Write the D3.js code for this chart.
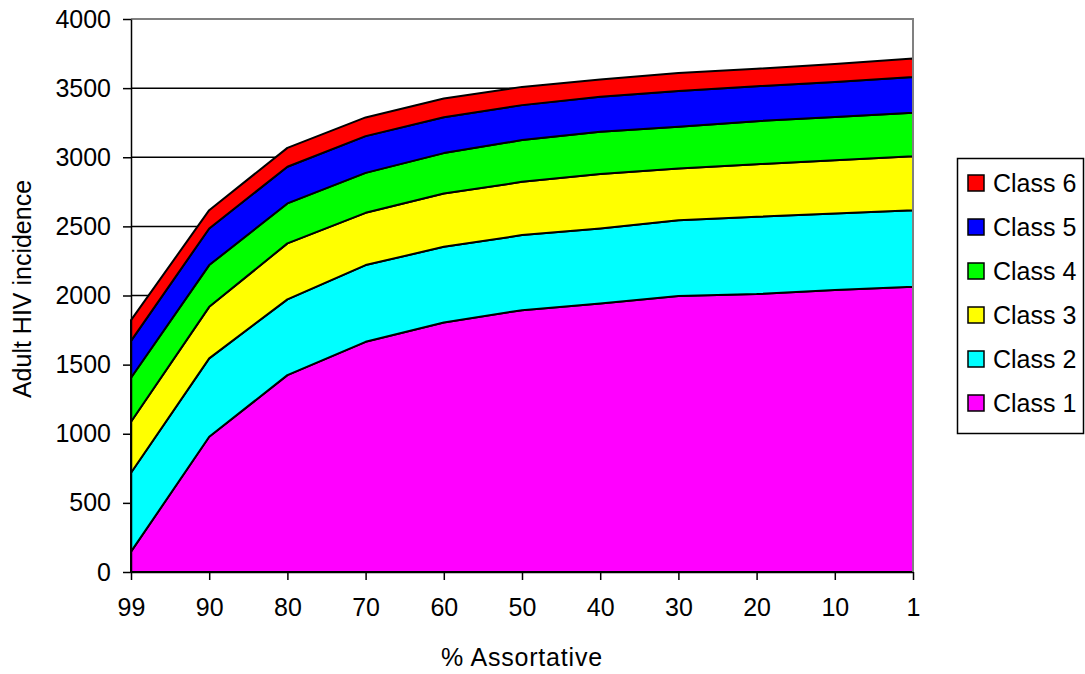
<!DOCTYPE html>
<html>
<head>
<meta charset="utf-8">
<script src="https://cdn.jsdelivr.net/npm/d3@7"></script>
<style>
  body { margin: 0; background: #fff; }
  svg { display: block; font-family: "Liberation Sans", Arial, sans-serif; }
  .axis path, .axis line { stroke: #000; stroke-width: 1.5px; }
  .axis text { font-size: 25px; fill: #000; }
</style>
</head>
<body>
<div class="chartWrap"></div>
<script>
// data, values per class (not cumulative)
const categories = ['99', '90', '80', '70', '60', '50', '40', '30', '20', '10', '1'];
const class1 = [147, 978, 1424, 1665, 1805, 1894, 1943, 1996, 2010, 2039, 2063];
const class2 = [571, 567, 548, 555, 547, 543, 542, 549, 559, 554, 554];
const class3 = [369, 373, 405, 378, 386, 385, 393, 374, 381, 386, 391];
const class4 = [318, 302, 289, 289, 292, 302, 306, 301, 311, 313, 313];
const class5 = [267, 265, 265, 266, 260, 253, 253, 260, 253, 253, 259];
const class6 = [150, 132, 137, 135, 135, 132, 125, 130, 126, 130, 135];
const seriesNames = ['Class 1', 'Class 2', 'Class 3', 'Class 4', 'Class 5', 'Class 6'];
const yTicks = [0, 500, 1000, 1500, 2000, 2500, 3000, 3500, 4000];

const colors = ['#ff00ff', '#00ffff', '#ffff00', '#00ff00', '#0000ff', '#ff0000'];
const w = 1085, h = 674;
const margin = {top: 19, right: 172, bottom: 102, left: 131};

// build table for d3.stack
const allSeries = [class1, class2, class3, class4, class5, class6];
const table = categories.map(function(c, i) {
  let row = {cat: c};
  seriesNames.forEach(function(s, j) { row[s] = allSeries[j][i]; });
  return row;
});
const stacked = d3.stack().keys(seriesNames)(table);

const svg = d3.select(".chartWrap").append("svg").attr("width", w).attr("height", h);

const x = d3.scalePoint().domain(categories).range([margin.left, w - margin.right]);
const y = d3.scaleLinear().domain([0, 4000]).range([h - margin.bottom, margin.top]);

// gridlines
svg.append("g").selectAll("line").data(yTicks.filter(d => d > 0)).enter().append("line")
  .attr("x1", margin.left).attr("x2", w - margin.right)
  .attr("y1", d => y(d)).attr("y2", d => y(d))
  .attr("stroke", "#000").attr("stroke-width", 1.5);

// areas
const area = d3.area()
  .x((d, i) => x(categories[i]))
  .y0(d => y(d[0]))
  .y1(d => y(d[1]));
svg.append("g").selectAll("path").data(stacked).enter().append("path")
  .attr("d", area)
  .attr("fill", (d, i) => colors[i])
  .attr("stroke", "#000").attr("stroke-width", 2).attr("stroke-linejoin", "round");

// plot border (top + right grey)
svg.append("path")
  .attr("d", "M" + margin.left + "," + y(4000) + "H" + (w - margin.right) + "V" + y(0))
  .attr("fill", "none").attr("stroke", "#808080").attr("stroke-width", 2);

// axes
const yAxis = d3.axisLeft(y).tickValues(yTicks).tickFormat(d3.format("d"))
  .tickSize(8).tickPadding(12).tickSizeOuter(0);
svg.append("g").attr("class", "axis")
  .attr("transform", "translate(" + margin.left + ",0)")
  .call(yAxis);
const xAxis = d3.axisBottom(x).tickSize(8).tickPadding(18).tickSizeOuter(0);
svg.append("g").attr("class", "axis")
  .attr("transform", "translate(0," + y(0) + ")")
  .call(xAxis);

// axis titles
svg.append("text").text("% Assortative")
  .attr("x", 522).attr("y", 666)
  .attr("text-anchor", "middle").attr("font-size", 25).style("letter-spacing", "0.8px");
svg.append("text").text("Adult HIV incidence")
  .attr("transform", "translate(31," + 289 + ") rotate(-90)")
  .attr("text-anchor", "middle").attr("font-size", 25);

// legend
const lg = svg.append("g");
lg.append("rect").attr("x", 957.5).attr("y", 158.5).attr("width", 126).attr("height", 275)
  .attr("fill", "#fff").attr("stroke", "#000").attr("stroke-width", 1.5);
const legendOrder = seriesNames.map((s, i) => i).reverse();
legendOrder.forEach(function(si, k) {
  let cy = 183 + k * 44;
  lg.append("rect").attr("x", 968).attr("y", cy - 8).attr("width", 16).attr("height", 16)
    .attr("fill", colors[si]).attr("stroke", "#000").attr("stroke-width", 1.5);
  lg.append("text").text(seriesNames[si]).attr("x", 993).attr("y", cy + 9).attr("font-size", 25);
});
</script>
</body>
</html>
